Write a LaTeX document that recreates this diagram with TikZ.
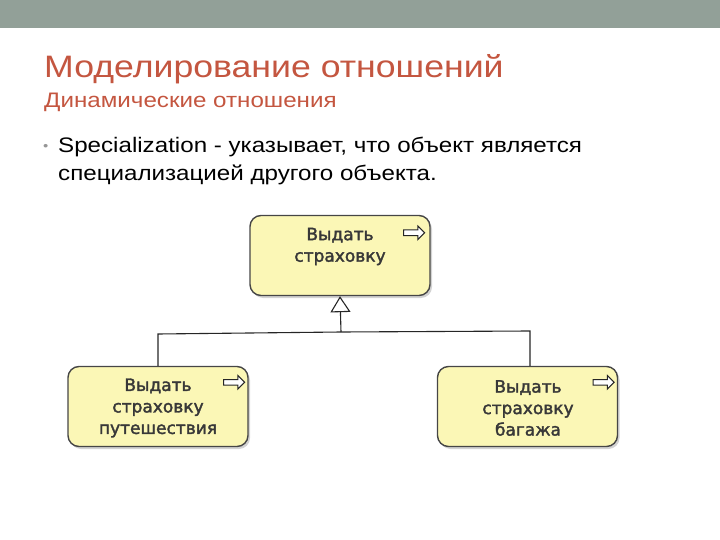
\documentclass[tikz,border=0pt]{standalone}
\usepackage{fontspec}
\setmainfont[FakeStretch=1.15]{Liberation Sans}
\newfontfamily\boxfont[FakeBold=2]{DejaVu Sans}
\usepackage{xcolor}
\usetikzlibrary{shapes,arrows.meta,positioning,shadows}
\definecolor{barGray}{RGB}{146,160,152}
\definecolor{titleRed}{RGB}{196,86,64}
\definecolor{boxYellow}{RGB}{251,247,182}
\definecolor{boxBorder}{RGB}{70,70,70}
\definecolor{bulletGray}{RGB}{150,150,150}

\begin{document}
\begin{tikzpicture}[
    x=1pt, y=-1pt,
    box/.style={rectangle, draw=boxBorder, line width=1.4pt, rounded corners=11pt, fill=boxYellow,
        minimum width=180pt, minimum height=80pt,
        drop shadow={shadow xshift=2pt, shadow yshift=-2.5pt, opacity=0.35}},
    boxtext/.style={align=center, font=\boxfont\fontsize{17}{21.5}\selectfont, text=black!78},
    icon/.style={single arrow, draw=black!85, fill=white, line width=1pt, inner sep=2.3pt,
        minimum height=21pt, single arrow head extend=4pt},
    line/.style={draw=black!85, line width=1.1pt}
]
    \useasboundingbox (0,0) rectangle (720,540);
    \fill[barGray] (0,0) rectangle (720,28);

    % heading
    \node[anchor=base west, inner sep=0, text=titleRed, font=\fontsize{31}{34}\selectfont] (title) at (44,78) {Моделирование отношений};
    \node[anchor=base west, inner sep=0, text=titleRed, font=\fontsize{21}{24}\selectfont] (subtitle) at (44,108) {Динамические отношения};
    \node[anchor=base west, inner sep=0, text=bulletGray, font=\fontsize{13}{16}\selectfont] (dot) at (43,151) {•};
    \node[anchor=base west, inner sep=0, align=left, font=\fontsize{21}{28}\selectfont] (bullet) at (58,181)
        {Specialization - указывает, что объект является\\специализацией другого объекта.};

    % boxes
    \node[box] (top) at (340,255.5) {};
    \node[boxtext] (toptext) at (340,246.5) {Выдать\\страховку};
    \node[box] (travel) at (158,406.5) {};
    \node[boxtext] (traveltext) at (158,408) {Выдать\\страховку\\путешествия};
    \node[box] (luggage) at (527.5,406.5) {};
    \node[boxtext] (luggagetext) at (528,408) {Выдать\\страховку\\багажа};

    \node[icon] (topicon) at ([shift={(-18,18)}]top.north east) {};
    \node[icon] (travelicon) at ([shift={(-16,16.5)}]travel.north east) {};
    \node[icon] (luggageicon) at ([shift={(-16,16.5)}]luggage.north east) {};

    % generalization
    \coordinate (hub) at (341,332);
    \coordinate (lbend) at (158,334);
    \coordinate (rbend) at (530,331);
    \draw[line] (travel.north) -- (lbend) -- (hub) -- (rbend) -- (rbend |- luggage.north);
    \draw[line, -{Triangle[open, fill=white, length=16pt, width=20pt]}] (hub) -- (top.south);
\end{tikzpicture}
\end{document}
